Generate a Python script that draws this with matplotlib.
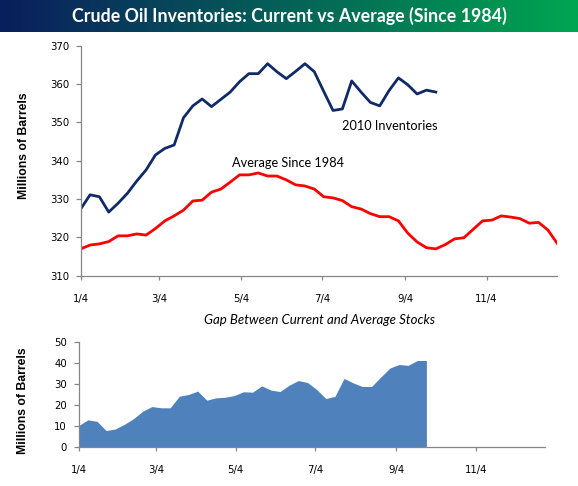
import numpy as np
import pandas as pd
import matplotlib
matplotlib.use("Agg")
import matplotlib.pyplot as plt
from matplotlib.colors import LinearSegmentedColormap

# weekly dates, one year starting 1/4
weeks = pd.date_range("2010-01-04", periods=52, freq="7D")

# 2010 inventories (millions of barrels), 39 weeks reported
current_2010 = [327.4, 331.1, 330.6, 326.6, 328.9, 331.5, 334.7, 337.6, 341.5, 343.2,
                344.1, 351.2, 354.3, 356.1, 354.1, 356.0, 357.9, 360.6, 362.7, 362.7,
                365.3, 363.2, 361.4, 363.3, 365.3, 363.2, 358.1, 353.1, 353.5, 360.8,
                357.9, 355.2, 354.3, 358.3, 361.6, 359.8, 357.4, 358.4, 357.9]

# average since 1984, all 52 weeks
average_1984 = [317.0, 318.0, 318.3, 318.9, 320.4, 320.4, 320.9, 320.6, 322.3, 324.3,
                325.6, 327.1, 329.5, 329.7, 331.8, 332.6, 334.4, 336.3, 336.3, 336.8,
                336.0, 336.0, 335.0, 333.7, 333.4, 332.6, 330.6, 330.3, 329.6, 328.0,
                327.4, 326.2, 325.4, 325.4, 324.3, 321.1, 318.8, 317.3, 317.0, 318.1,
                319.6, 319.9, 322.1, 324.3, 324.5, 325.6, 325.3, 324.9, 323.7, 323.9,
                321.9, 318.4]

# gap between current and average stocks
gap = [10.3, 13.0, 12.3, 7.9, 8.7, 10.9, 13.6, 17.1, 19.3, 18.7,
       18.7, 24.2, 25.0, 26.6, 22.3, 23.4, 23.7, 24.5, 26.3, 26.1,
       29.1, 27.1, 26.4, 29.4, 31.6, 30.7, 27.4, 23.1, 24.1, 32.6,
       30.5, 28.8, 28.8, 33.2, 37.5, 39.2, 38.8, 41.1, 41.1]

tick_dates = ["2010-01-04", "2010-03-04", "2010-05-04", "2010-07-04", "2010-09-04", "2010-11-04"]
tick_labels = ["1/4", "3/4", "5/4", "7/4", "9/4", "11/4"]

title = "Crude Oil Inventories: Current vs Average (Since 1984)"
subtitle = "Gap Between Current and Average Stocks"
ylabel = "Millions of Barrels"

SPINE = "#868686"
NAVY = "#0f2a66"
RED = "#ff0000"
AREA = "#4f81bd"
TICK_FONT = dict(family="DejaVu Sans", size=7.3)


def style_axis(ax, yticks):
    for side in ["top", "right"]:
        ax.spines[side].set_visible(False)
    for side in ["left", "bottom"]:
        ax.spines[side].set_color(SPINE)
        ax.spines[side].set_linewidth(0.9)
    ax.set_xlim(weeks[0], pd.Timestamp("2010-12-27"))
    ax.set_xticks(pd.to_datetime(tick_dates))
    ax.set_xticklabels(tick_labels, fontdict=TICK_FONT)
    ax.set_yticks(yticks)
    ax.set_yticklabels([str(v) for v in yticks], fontdict=TICK_FONT)
    ax.tick_params(axis="x", length=3, width=0.9, color=SPINE, pad=10)
    ax.tick_params(axis="y", length=3.4, width=0.9, color=SPINE, pad=5)


fig = plt.figure(figsize=(5.78, 4.86), dpi=100)

# title bar with gradient
bar = fig.add_axes([0, 1 - 32 / 486, 1, 32 / 486])
cmap = LinearSegmentedColormap.from_list("bar", ["#0a1e5e", "#00a651"])
bar.imshow(np.linspace(0, 1, 256).reshape(1, -1), aspect="auto", cmap=cmap,
           extent=[0, 1, 0, 1])
bar.set_axis_off()
bar.text(0.5, 0.5, title, color="white", fontsize=12.8, fontweight="bold",
         family="Lato", ha="center", va="center", transform=bar.transAxes)

# top chart
ax1 = fig.add_axes([0.1396, 0.4327, 0.8246, 0.4733])
ax1.plot(weeks[:len(current_2010)], current_2010, color=NAVY, lw=2.0)
ax1.plot(weeks, average_1984, color=RED, lw=2.0)
ax1.set_ylim(310, 370)
style_axis(ax1, list(range(310, 371, 10)))
ax1.set_ylabel(ylabel, fontsize=8.8, fontweight="bold", family="Liberation Sans")
ax1.yaxis.set_label_coords(-0.106, 0.564)
ax1.text(pd.Timestamp("2010-07-19"), 349.1, "2010 Inventories", fontsize=9.2,
         family="Lato", va="center", ha="left")
ax1.text(pd.Timestamp("2010-04-27"), 339.3, "Average Since 1984", fontsize=9.2,
         family="Lato", va="center", ha="left")

# bottom chart
ax2 = fig.add_axes([0.1362, 0.0796, 0.8073, 0.2173])
ax2.fill_between(weeks[:len(gap)], gap, 0, color=AREA, lw=0)
ax2.set_ylim(0, 50)
style_axis(ax2, list(range(0, 51, 10)))
ax2.set_ylabel(ylabel, fontsize=8.8, fontweight="bold", family="Liberation Sans")
ax2.yaxis.set_label_coords(-0.107, 0.437)

fig.text(319.5 / 578, 1 - 320 / 486, subtitle, fontsize=9.5, style="italic",
         family="Lato", ha="center", va="center")

fig.savefig("out.png", dpi=100)
